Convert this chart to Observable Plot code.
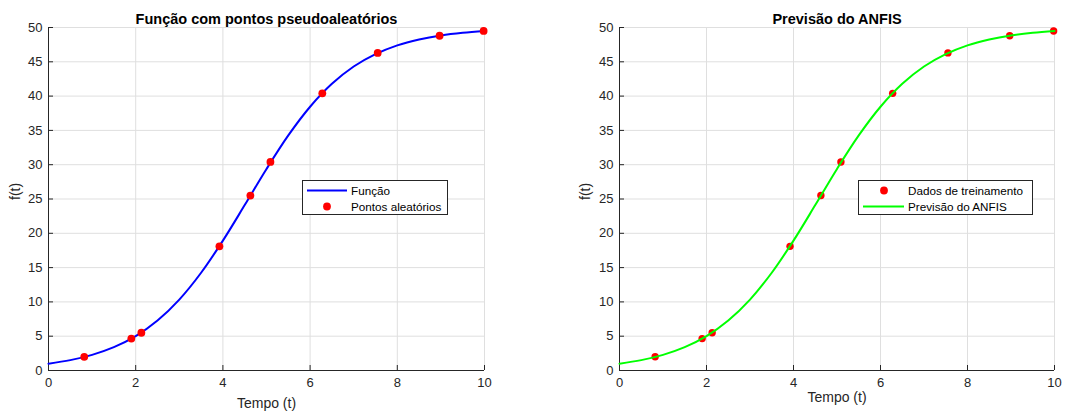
<!DOCTYPE html>
<html>
<head>
<meta charset="utf-8">
<script src="https://cdn.jsdelivr.net/npm/d3@7"></script>
<script src="https://cdn.jsdelivr.net/npm/@observablehq/plot@0.6"></script>
<style>
  html, body { margin: 0; padding: 0; background: #fff; }
  #wrap { position: relative; width: 1065px; height: 414px; overflow: hidden; font-family: "Liberation Sans", Arial, Helvetica, sans-serif; }
  .fig { position: absolute; top: 0; }
  .legend { position: absolute; }
  .legend text { font-family: "Liberation Sans", Arial, Helvetica, sans-serif; font-size: 11.7px; fill: #000; }
</style>
</head>
<body>
<div id="wrap"></div>
<script>
// ---- data ----
const tCurve = [0, 0.5, 1, 1.5, 2, 2.5, 3, 3.5, 4, 4.5, 5, 5.5, 6, 6.5, 7, 7.5, 8, 8.5, 9, 9.5, 10];
const fCurve = [1.00, 1.51, 2.28, 3.40, 5.01, 7.28, 10.34, 14.25, 18.93, 24.11, 29.38, 34.27, 38.45, 41.79, 44.31, 46.12, 47.40, 48.26, 48.85, 49.24, 49.50];
const anfisCurve = [1.00, 1.51, 2.28, 3.40, 5.01, 7.28, 10.34, 14.25, 18.93, 24.11, 29.38, 34.27, 38.45, 41.79, 44.31, 46.12, 47.40, 48.26, 48.85, 49.24, 49.50];
const tPts = [0.82, 1.90, 2.13, 3.92, 4.63, 5.09, 6.28, 7.55, 8.97, 9.98];
const fPts = [2.0, 4.65, 5.5, 18.1, 25.5, 30.4, 40.4, 46.3, 48.8, 49.5];
const xTicks = [0, 2, 4, 6, 8, 10];
const yTicks = [0, 5, 10, 15, 20, 25, 30, 35, 40, 45, 50];
const titles = ["Função com pontos pseudoaleatórios", "Previsão do ANFIS"];
const xLabel = "Tempo (t)";
const yLabel = "f(t)";
const legend1 = ["Função", "Pontos aleatórios"];
const legend2 = ["Dados de treinamento", "Previsão do ANFIS"];

const curveData = tCurve.map((t, i) => ({t, f: fCurve[i]}));
const anfisData = tCurve.map((t, i) => ({t, f: anfisCurve[i]}));
const ptsData = tPts.map((t, i) => ({t, f: fPts[i]}));

const TXT = "#262626";
const GRID = "#dfdfdf";
const H = 414, MT = 27, MB = 44;

function axesMarks(innerW, innerH, xLabDy, yLabDx) {
  return [
    Plot.gridX(xTicks, {stroke: GRID, strokeOpacity: 1}),
    Plot.gridY(yTicks, {stroke: GRID, strokeOpacity: 1}),
    Plot.ruleX([0], {stroke: TXT, strokeWidth: 1}),
    Plot.ruleY([0], {stroke: TXT, strokeWidth: 1}),
    Plot.tickX(xTicks, {x: d => d, stroke: TXT, insetTop: innerH - 5}),
    Plot.tickY(yTicks, {y: d => d, stroke: TXT, insetRight: innerW - 5}),
    Plot.axisX(xTicks, {tickSize: 0, tickPadding: 7, fontSize: 13, color: TXT, label: null}),
    Plot.axisY(yTicks, {tickSize: 0, tickPadding: 6, fontSize: 13, color: TXT, label: null}),
    Plot.text([xLabel], {frameAnchor: "bottom", dy: xLabDy, fontSize: 14, fill: TXT}),
    Plot.text([yLabel], {frameAnchor: "left", dx: yLabDx, dy: 1, rotate: -90, fontSize: 14, fill: TXT})
  ];
}

function titleMark(s) {
  return Plot.text([s], {frameAnchor: "top", dy: -13.5, fontSize: 14.5, fontWeight: "bold", fill: "#000"});
}

const style = {fontFamily: '"Liberation Sans", Arial, Helvetica, sans-serif', fontSize: "13px", background: "transparent", overflow: "visible"};

// Left plot
const W1 = 532, ML1 = 48, MR1 = 48;
const p1 = Plot.plot({
  width: W1, height: H, marginLeft: ML1, marginRight: MR1, marginTop: MT, marginBottom: MB,
  x: {domain: [0, 10]}, y: {domain: [0, 50]}, style,
  marks: [
    ...axesMarks(W1 - ML1 - MR1, H - MT - MB, 37, -33),
    Plot.line(curveData, {x: "t", y: "f", stroke: "#0000ff", strokeWidth: 2, curve: "catmull-rom"}),
    Plot.dot(ptsData, {x: "t", y: "f", r: 3.9, fill: "#ff0000", stroke: "none"}),
    titleMark(titles[0])
  ]
});
p1.classList.add("fig"); p1.style.left = "0px";

// Right plot
const W2 = 533, ML2 = 87, MR2 = 11;
const p2 = Plot.plot({
  width: W2, height: H, marginLeft: ML2, marginRight: MR2, marginTop: MT, marginBottom: MB,
  x: {domain: [0, 10]}, y: {domain: [0, 50]}, style,
  marks: [
    ...axesMarks(W2 - ML2 - MR2, H - MT - MB, 31, -34),
    Plot.dot(ptsData, {x: "t", y: "f", r: 3.7, fill: "#ff0000", stroke: "none"}),
    Plot.line(anfisData, {x: "t", y: "f", stroke: "#00ff00", strokeWidth: 2, curve: "catmull-rom"}),
    titleMark(titles[1])
  ]
});
p2.classList.add("fig"); p2.style.left = "532px";

const wrap = document.getElementById("wrap");
wrap.appendChild(p1);
wrap.appendChild(p2);

// Legends
function makeLegend(left, top, w, h, items) {
  const svg = d3.create("svg").attr("class", "legend").attr("width", w + 1).attr("height", h + 1)
    .style("left", left + "px").style("top", top + "px");
  svg.append("rect").attr("x", 0.5).attr("y", 0.5).attr("width", w - 1).attr("height", h - 1)
    .attr("fill", "#fff").attr("stroke", TXT).attr("stroke-width", 1);
  items.forEach(it => {
    if (it.kind === "line") {
      svg.append("line").attr("x1", it.x0).attr("x2", it.x1).attr("y1", it.y).attr("y2", it.y)
        .attr("stroke", it.color).attr("stroke-width", 2);
    } else {
      svg.append("circle").attr("cx", it.cx).attr("cy", it.y).attr("r", 3.9).attr("fill", it.color);
    }
    svg.append("text").attr("x", it.tx).attr("y", it.y).attr("dy", "0.35em").text(it.label);
  });
  wrap.appendChild(svg.node());
}
makeLegend(302, 180, 146, 35, [
  {kind: "line", x0: 5, x1: 45, y: 10.5, color: "#0000ff", tx: 49, label: legend1[0]},
  {kind: "dot", cx: 25, y: 26.5, color: "#ff0000", tx: 49, label: legend1[1]}
]);
makeLegend(858, 180, 175, 35, [
  {kind: "dot", cx: 26, y: 10.5, color: "#ff0000", tx: 50, label: legend2[0]},
  {kind: "line", x0: 5, x1: 46, y: 26.5, color: "#00ff00", tx: 50, label: legend2[1]}
]);
</script>
</body>
</html>
